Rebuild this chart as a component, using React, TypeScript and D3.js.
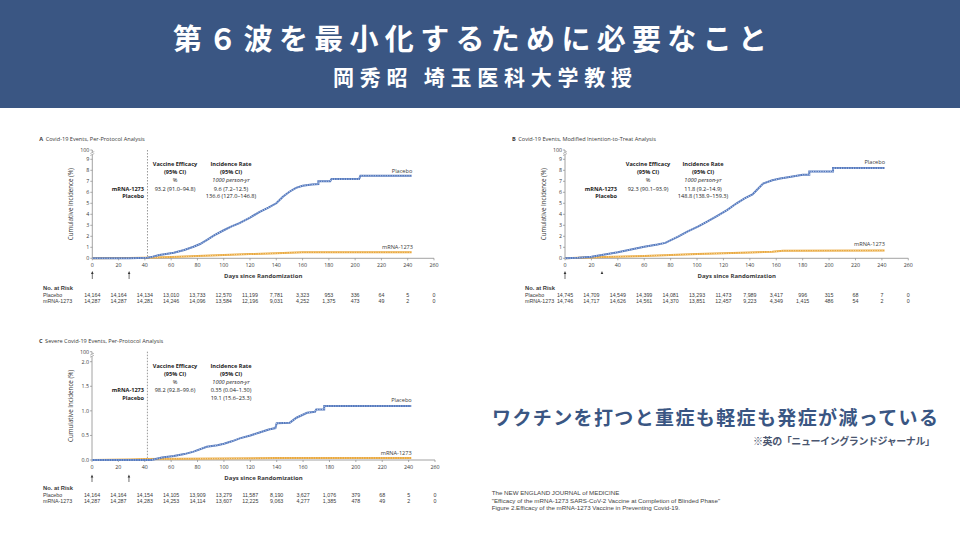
import React from "react";
import * as d3 from "d3";

type Pt = [number, number];

// ---------- data ----------
const dayTicks = [0, 20, 40, 60, 80, 100, 120, 140, 160, 180, 200, 220, 240, 260];
const yTicksAB = [0, 1, 2, 3, 4, 5, 6, 7, 8, 9];
const yTicksC = [0, 0.5, 1.0, 1.5, 2.0];

const placeboA: Pt[] = [
  [0, 0], [28, 0], [42, 0.05], [46, 0.15], [51, 0.3], [56, 0.4], [62, 0.5], [70, 0.75], [77, 1.05],
  [82, 1.3], [87, 1.66], [93, 2.1], [100, 2.55], [106, 2.9], [112, 3.2], [120, 3.7], [127, 4.2],
  [134, 4.6], [140, 5.0], [145, 5.6], [150, 6.05], [155, 6.4], [160, 6.6], [167, 6.7], [172, 6.75],
  [172, 7.0], [181, 7.0], [182, 7.2], [203, 7.2], [204, 7.5], [243, 7.5],
];
const mrnaA: Pt[] = [
  [0, 0], [28, 0.02], [40, 0.05], [60, 0.12], [80, 0.2], [100, 0.3], [120, 0.38], [140, 0.45],
  [155, 0.52], [160, 0.55], [243, 0.55],
];
const placeboB: Pt[] = [
  [0, 0], [10, 0.05], [20, 0.15], [30, 0.35], [40, 0.55], [50, 0.8], [60, 1.05], [70, 1.25], [76, 1.4],
  [86, 2.0], [93, 2.45], [101, 2.9], [108, 3.35], [116, 3.9], [123, 4.4], [130, 5.0], [136, 5.45],
  [142, 5.8], [146, 6.3], [150, 6.8], [157, 7.1], [163, 7.25], [170, 7.4], [180, 7.6], [185, 7.6],
  [185, 7.9], [203, 7.9], [203, 8.2], [242, 8.2],
];
const mrnaB: Pt[] = [
  [0, 0], [10, 0.05], [30, 0.12], [60, 0.22], [80, 0.3], [100, 0.38], [120, 0.45], [140, 0.52],
  [157, 0.6], [165, 0.68], [242, 0.7],
];
const placeboC: Pt[] = [
  [0, 0], [45, 0], [53, 0.05], [62, 0.08], [70, 0.12], [77, 0.17], [87, 0.27], [95, 0.3], [100, 0.33],
  [106, 0.38], [112, 0.44], [120, 0.5], [127, 0.56], [134, 0.62], [139, 0.65], [140, 0.75], [150, 0.76],
  [155, 0.86], [163, 0.96], [169, 0.98], [170, 1.03], [176, 1.03], [176, 1.1], [242, 1.1],
];
const mrnaC: Pt[] = [
  [0, 0], [29, 0.01], [40, 0.02], [100, 0.03], [140, 0.04], [242, 0.04],
];

const riskPlaceboA = ["14,164", "14,164", "14,134", "13,010", "13,733", "12,570", "11,199", "7,781", "3,323", "953", "336", "64", "5", "0"];
const riskMrnaA = ["14,287", "14,287", "14,281", "14,246", "14,096", "13,584", "12,196", "9,031", "4,252", "1,375", "473", "49", "2", "0"];
const riskPlaceboB = ["14,745", "14,709", "14,549", "14,399", "14,081", "13,293", "11,473", "7,989", "3,417", "996", "315", "68", "7", "0"];
const riskMrnaB = ["14,746", "14,717", "14,626", "14,561", "14,370", "13,851", "12,457", "9,223", "4,349", "1,415", "486", "54", "2", "0"];
const riskPlaceboC = ["14,164", "14,164", "14,154", "14,105", "13,909", "13,279", "11,587", "8,190", "3,627", "1,076", "379", "68", "5", "0"];
const riskMrnaC = ["14,287", "14,287", "14,283", "14,253", "14,114", "13,607", "12,225", "9,063", "4,277", "1,385", "478", "49", "2", "0"];

const veA = ["93.2 (91.0–94.8)"];
const irA = ["9.6 (7.2–12.5)", "136.6 (127.0–146.8)"];
const veB = ["92.3 (90.1–93.9)"];
const irB = ["11.8 (9.2–14.9)", "148.8 (138.9–159.3)"];
const veC = ["98.2 (92.8–99.6)"];
const irC = ["0.35 (0.04–1.30)", "19.1 (15.6–23.3)"];

const headerTitle = "第６波を最小化するために必要なこと";
const headerSub = "岡秀昭 埼玉医科大学教授";
const message = "ワクチンを打つと重症も軽症も発症が減っている";
const note = "※英の「ニューイングランドジャーナル」";
const sourceLines = [
  "The NEW ENGLAND JOURNAL of MEDICINE",
  "\"Efficacy of the mRNA-1273 SARS-CoV-2 Vaccine at Completion of Blinded Phase\"",
  "Figure 2.Efficacy of the mRNA-1273 Vaccine in Preventing Covid-19.",
];

// ---------- styles ----------
const FONT = "'Open Sans', 'Liberation Sans', sans-serif";
const TFONT = "'Liberation Sans', Arial, sans-serif";
const JP = "'Noto Sans CJK JP', sans-serif";
const BLUE = "#5579bd";
const BLUE_L = "#bccdec";
const ORANGE = "#e9a83f";
const ORANGE_L = "#f8dca6";
const TXT = "#3a3a3a";
const AXIS = "#8a8a8a";

type PanelProps = {
  letter: string;
  title: string;
  x0: number;
  x1: number;
  y0: number;
  yMaxTick: number;
  yAtMax: number;
  yTop: number;
  yTicks: number[];
  fmt: (v: number) => string;
  placebo: Pt[];
  mrna: Pt[];
  dashDay?: number;
  ve: string[];
  ir: string[];
  annX: [number, number, number];
  annY: number;
  placeboLab: [number, number];
  mrnaLab: [number, number];
  riskX: number;
  riskY: [number, number, number];
  riskP: string[];
  riskM: string[];
  arrowY: [number, number];
  smallArrow?: boolean;
  yLabX: number;
};

function Panel(p: PanelProps) {
  const x = d3.scaleLinear().domain([0, 260]).range([p.x0, p.x1]);
  const y = d3.scaleLinear().domain([0, p.yMaxTick]).range([p.y0, p.yAtMax]);
  const line = d3.line<Pt>().x((d) => x(d[0])).y((d) => y(d[1]));
  const [veX, irX, labX] = p.annX;
  const a = p.annY;
  return (
    <g>
      {/* title */}
      <text x={p.x0 - 53} y={p.yTop - 9} fontFamily={FONT} fontSize={5.6} fill={TXT}>
        <tspan fontWeight="bold">{p.letter}</tspan>
        <tspan dx={2.5}>{p.title}</tspan>
      </text>
      {/* y axis */}
      <line x1={p.x0} x2={p.x0} y1={p.y0} y2={p.yTop} stroke={AXIS} strokeWidth={0.8} />
      {p.yTicks.map((t) => (
        <g key={t}>
          <line x1={p.x0 - 2} x2={p.x0} y1={y(t)} y2={y(t)} stroke={AXIS} strokeWidth={0.7} />
          <text x={p.x0 - 3} y={y(t) + 2} textAnchor="end" fontFamily={FONT} fontSize={5.3} fill={TXT}>
            {p.fmt(t)}
          </text>
        </g>
      ))}
      <line x1={p.x0 - 2} x2={p.x0} y1={p.yTop} y2={p.yTop} stroke={AXIS} strokeWidth={0.7} />
      <text x={p.x0 - 3} y={p.yTop + 2} textAnchor="end" fontFamily={FONT} fontSize={5.3} fill={TXT}>
        100
      </text>
      <rect x={p.x0 - 2} y={p.yTop + 2.5} width={4} height={2} fill="#fff" />
      <line x1={p.x0 - 2} x2={p.x0 + 2} y1={p.yTop + 3.5} y2={p.yTop + 1.5} stroke={AXIS} strokeWidth={0.6} />
      <line x1={p.x0 - 2} x2={p.x0 + 2} y1={p.yTop + 5.5} y2={p.yTop + 3.5} stroke={AXIS} strokeWidth={0.6} />
      <text
        transform={`translate(${p.yLabX},${(p.y0 + p.yTop) / 2}) rotate(-90)`}
        textAnchor="middle"
        fontFamily={FONT}
        fontSize={6.2}
        fill={TXT}
      >
        Cumulative Incidence (%)
      </text>
      {/* x axis */}
      <line x1={p.x0} x2={p.x1} y1={p.y0} y2={p.y0} stroke={AXIS} strokeWidth={0.8} />
      {dayTicks.map((t) => (
        <g key={t}>
          <line x1={x(t)} x2={x(t)} y1={p.y0} y2={p.y0 + 2} stroke={AXIS} strokeWidth={0.7} />
          <text x={x(t)} y={p.y0 + 9} textAnchor="middle" fontFamily={FONT} fontSize={5.3} fill={TXT}>
            {t}
          </text>
        </g>
      ))}
      <text x={(p.x0 + p.x1) / 2} y={p.y0 + 20} textAnchor="middle" fontFamily={FONT} fontSize={6} fontWeight="bold" fill={TXT}>
        Days since Randomization
      </text>
      {/* arrows */}
      {[0, 28].map((d, i) => (
        <g key={d}>
          {!(p.smallArrow && i === 1) && (
            <line x1={x(d)} x2={x(d)} y1={p.arrowY[0] + 2} y2={p.arrowY[1]} stroke="#333" strokeWidth={0.7} />
          )}
          <path d={`M${x(d)},${p.arrowY[0]} l-1.3,3 l2.6,0 z`} fill="#333" />
        </g>
      ))}
      {/* dashed line */}
      {p.dashDay !== undefined && (
        <line
          x1={x(p.dashDay)}
          x2={x(p.dashDay)}
          y1={p.yTop}
          y2={p.y0}
          stroke="#555"
          strokeWidth={0.6}
          strokeDasharray="1.5,1.5"
        />
      )}
      {/* curves */}
      <path d={line(p.mrna) || ""} fill="none" stroke={ORANGE} strokeWidth={2} />
      <path d={line(p.mrna) || ""} fill="none" stroke={ORANGE_L} strokeWidth={1.1} strokeDasharray="0.9,1.5" />
      <path d={line(p.placebo) || ""} fill="none" stroke={BLUE} strokeWidth={2} />
      <path d={line(p.placebo) || ""} fill="none" stroke={BLUE_L} strokeWidth={1.1} strokeDasharray="0.9,1.5" />
      <text x={p.placeboLab[0]} y={p.placeboLab[1]} textAnchor="end" fontFamily={FONT} fontSize={5.6} fill={TXT}>
        Placebo
      </text>
      <text x={p.mrnaLab[0]} y={p.mrnaLab[1]} textAnchor="end" fontFamily={FONT} fontSize={5.6} fill={TXT}>
        mRNA-1273
      </text>
      {/* annotation */}
      <g fontFamily={FONT} fontSize={5.6} fill="#222">
        <text x={veX} y={a} textAnchor="middle" fontWeight="bold">Vaccine Efficacy</text>
        <text x={veX} y={a + 7.8} textAnchor="middle" fontWeight="bold">(95% CI)</text>
        <text x={veX} y={a + 15.8} textAnchor="middle">%</text>
        <text x={veX} y={a + 24.5} textAnchor="middle">{p.ve[0]}</text>
        <text x={irX} y={a} textAnchor="middle" fontWeight="bold">Incidence Rate</text>
        <text x={irX} y={a + 7.8} textAnchor="middle" fontWeight="bold">(95% CI)</text>
        <text x={irX} y={a + 15.8} textAnchor="middle" fontStyle="italic">1000 person-yr</text>
        <text x={irX} y={a + 24.5} textAnchor="middle">{p.ir[0]}</text>
        <text x={irX} y={a + 31.8} textAnchor="middle">{p.ir[1]}</text>
        <text x={labX} y={a + 24.5} textAnchor="end" fontWeight="bold">mRNA-1273</text>
        <text x={labX} y={a + 31.8} textAnchor="end" fontWeight="bold">Placebo</text>
      </g>
      {/* risk table */}
      <g fontFamily={TFONT} fill={TXT}>
        <text x={p.riskX} y={p.riskY[0]} fontSize={5.8} fontWeight="bold">No. at Risk</text>
        <text x={p.riskX} y={p.riskY[1]} fontSize={5.3}>Placebo</text>
        <text x={p.riskX} y={p.riskY[2]} fontSize={5.3}>mRNA-1273</text>
        {dayTicks.map((t, i) => (
          <g key={t}>
            <text x={x(t)} y={p.riskY[1]} textAnchor="middle" fontSize={5.3}>{p.riskP[i]}</text>
            <text x={x(t)} y={p.riskY[2]} textAnchor="middle" fontSize={5.3}>{p.riskM[i]}</text>
          </g>
        ))}
      </g>
    </g>
  );
}

export default function App() {
  const fmtInt = (v: number) => d3.format("d")(v);
  const fmt1 = (v: number) => d3.format(".1f")(v);
  return (
    <svg
      width={960}
      height={540}
      viewBox="0 0 960 540"
      style={{ position: "fixed", left: 0, top: 0, background: "#fff" }}
    >
      <rect x={0} y={0} width={960} height={540} fill="#fff" />
      {/* header */}
      <rect x={0} y={0} width={960} height={108} fill="#3a5683" />
      <text x={173} y={50} textLength={594} lengthAdjust="spacing" fontFamily={JP} fontSize={29} fontWeight="bold" fill="#fff">
        {headerTitle}
      </text>
      <text x={333} y={85} textLength={299} lengthAdjust="spacing" fontFamily={JP} fontSize={21} fontWeight="bold" fill="#fff">
        {headerSub}
      </text>

      <Panel
        letter="A"
        title="Covid-19 Events, Per-Protocol Analysis"
        x0={92.3}
        x1={434}
        y0={258.3}
        yMaxTick={9}
        yAtMax={159.3}
        yTop={150}
        yTicks={yTicksAB}
        fmt={fmtInt}
        placebo={placeboA}
        mrna={mrnaA}
        dashDay={42}
        ve={veA}
        ir={irA}
        annX={[175, 231, 144]}
        annY={166.3}
        placeboLab={[412.3, 173]}
        mrnaLab={[413, 248.7]}
        riskX={43}
        riskY={[289.6, 296.6, 303]}
        riskP={riskPlaceboA}
        riskM={riskMrnaA}
        arrowY={[271, 279]}
        yLabX={73}
      />
      <Panel
        letter="B"
        title="Covid-19 Events, Modified Intention-to-Treat Analysis"
        x0={565}
        x1={908.3}
        y0={258.3}
        yMaxTick={9}
        yAtMax={159.3}
        yTop={150}
        yTicks={yTicksAB}
        fmt={fmtInt}
        placebo={placeboB}
        mrna={mrnaB}
        ve={veB}
        ir={irB}
        annX={[648, 703, 617]}
        annY={166.3}
        placeboLab={[885, 163.7]}
        mrnaLab={[885, 246]}
        riskX={525}
        riskY={[289.6, 296.6, 303]}
        riskP={riskPlaceboB}
        riskM={riskMrnaB}
        arrowY={[271, 279]}
        smallArrow
        yLabX={546}
      />
      <Panel
        letter="C"
        title="Severe Covid-19 Events, Per-Protocol Analysis"
        x0={92}
        x1={435}
        y0={460}
        yMaxTick={2}
        yAtMax={361.7}
        yTop={351.7}
        yTicks={yTicksC}
        fmt={fmt1}
        placebo={placeboC}
        mrna={mrnaC}
        dashDay={42}
        ve={veC}
        ir={irC}
        annX={[175, 231, 144]}
        annY={367.7}
        placeboLab={[411.7, 402]}
        mrnaLab={[411.7, 454.7]}
        riskX={43}
        riskY={[489.6, 496.6, 503]}
        riskP={riskPlaceboC}
        riskM={riskMrnaC}
        arrowY={[474.5, 482]}
        yLabX={73}
      />

      {/* right side text */}
      <text x={492} y={425} textLength={446} lengthAdjust="spacing" fontFamily={JP} fontSize={19} fontWeight="bold" fill="#3a5683">
        {message}
      </text>
      <text x={753} y={444.5} textLength={182} lengthAdjust="spacing" fontFamily={JP} fontSize={10} fontWeight="bold" fill="#4a5670">
        {note}
      </text>
      {sourceLines.map((s, i) => (
        <text key={i} x={491.7} y={495 + i * 7.5} fontFamily={TFONT} fontSize={6.2} fill="#444">
          {s}
        </text>
      ))}
    </svg>
  );
}
